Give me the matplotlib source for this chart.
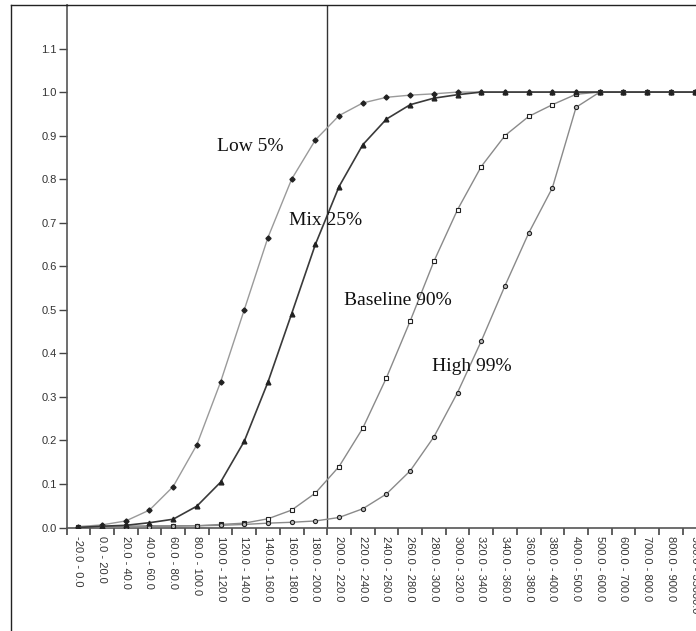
import numpy as np
import matplotlib
matplotlib.use("Agg")
import matplotlib.pyplot as plt
from matplotlib.lines import Line2D

# --- data ---
categories = ["-20.0 - 0.0", "0.0 - 20.0", "20.0 - 40.0", "40.0 - 60.0", "60.0 - 80.0",
              "80.0 - 100.0", "100.0 - 120.0", "120.0 - 140.0", "140.0 - 160.0",
              "160.0 - 180.0", "180.0 - 200.0", "200.0 - 220.0", "220.0 - 240.0",
              "240.0 - 260.0", "260.0 - 280.0", "280.0 - 300.0", "300.0 - 320.0",
              "320.0 - 340.0", "340.0 - 360.0", "360.0 - 380.0", "380.0 - 400.0",
              "400.0 - 500.0", "500.0 - 600.0", "600.0 - 700.0", "700.0 - 800.0",
              "800.0 - 900.0", "900.0 - 35000.0"]

low_5 = [0.002, 0.006, 0.015, 0.040, 0.094, 0.190, 0.334, 0.500, 0.666, 0.800,
         0.890, 0.946, 0.975, 0.988, 0.993, 0.996, 1.0, 1.0, 1.0, 1.0,
         1.0, 1.0, 1.0, 1.0, 1.0, 1.0, 1.0]
mix_25 = [0.0, 0.003, 0.005, 0.011, 0.019, 0.049, 0.104, 0.198, 0.334, 0.491,
          0.650, 0.783, 0.879, 0.938, 0.971, 0.986, 0.994, 1.0, 1.0, 1.0,
          1.0, 1.0, 1.0, 1.0, 1.0, 1.0, 1.0]
baseline_90 = [0.002, 0.002, 0.003, 0.004, 0.004, 0.004, 0.007, 0.010, 0.020, 0.040,
               0.079, 0.140, 0.228, 0.344, 0.474, 0.611, 0.730, 0.829, 0.900, 0.944,
               0.971, 0.995, 1.0, 1.0, 1.0, 1.0, 1.0]
high_99 = [0.0, 0.001, 0.001, 0.002, 0.003, 0.004, 0.005, 0.007, 0.010, 0.012,
           0.015, 0.023, 0.043, 0.077, 0.130, 0.208, 0.310, 0.428, 0.555, 0.676,
           0.780, 0.965, 1.0, 1.0, 1.0, 1.0, 1.0]

y_ticks = [0.0, 0.1, 0.2, 0.3, 0.4, 0.5, 0.6, 0.7, 0.8, 0.9, 1.0, 1.1]
cut_off = 10.5  # vertical marker at the 200.0 boundary

# annotation labels: (text, x, y)
labels = [("Low 5%", 7.24, 0.875),
          ("Mix 25%", 10.41, 0.705),
          ("Baseline 90%", 13.49, 0.522),
          ("High 99%", 16.61, 0.370)]

W, H = 696, 631
fig = plt.figure(figsize=(W / 100, H / 100), dpi=100)
fig.patch.set_facecolor("white")

# axes placed in pixel terms; right edge runs a little past the picture
left_px, right_px, top_px, bottom_px = 66.5, 706.4, 5.0, 527.5
ax = fig.add_axes([left_px / W, (H - bottom_px) / H,
                   (right_px - left_px) / W, (bottom_px - top_px) / H])

x = np.arange(len(categories))
mk = "#222222"
ax.plot(x, low_5, color="#9a9a9a", lw=1.0, marker="D", ms=2.6,
        mfc=mk, mec=mk, zorder=3)
ax.plot(x, mix_25, color="#3a3a3a", lw=1.2, marker="^", ms=3.4,
        mfc=mk, mec=mk, zorder=4)
ax.plot(x, baseline_90, color="#8a8a8a", lw=1.0, marker="s", ms=3.0,
        mfc="white", mec=mk, mew=0.8, zorder=3)
ax.plot(x, high_99, color="#8a8a8a", lw=1.0, marker="o", ms=3.0,
        mfc="#bbbbbb", mec=mk, mew=0.8, zorder=3)

ax.axvline(cut_off, color="#333333", lw=1.0, zorder=2)

for txt, tx, ty in labels:
    ax.text(tx, ty, txt, ha="center", va="center", fontsize=14,
            family="Liberation Serif", color="#111111", zorder=5)

ax.set_xlim(-0.5, len(categories) - 0.5)
ax.set_ylim(0, 1.2)

# y axis
ax.set_yticks(y_ticks)
ax.set_yticklabels([f"{v:.1f}" for v in y_ticks])
ax.tick_params(axis="y", direction="out", length=6, width=1, color="#444444",
               labelsize=8, labelcolor="#333333", pad=1)

# x axis: labels at centres, tick marks at category boundaries
ax.set_xticks(x)
ax.set_xticklabels(categories, rotation=-90, va="top", ha="center")
ax.set_xticks(np.arange(-0.5, len(categories)), minor=True)
ax.tick_params(axis="x", which="major", length=0, labelsize=8,
               labelcolor="#333333", pad=6)
ax.tick_params(axis="x", which="minor", direction="out", length=5, width=1.2,
               color="#444444")

for lab in ax.get_xticklabels() + ax.get_yticklabels():
    lab.set_family("Liberation Sans")

for side in ["left", "bottom"]:
    ax.spines[side].set_color("#555555")
    ax.spines[side].set_linewidth(1.2)
ax.spines["top"].set_color("#222222")
ax.spines["top"].set_linewidth(1.0)
ax.spines["right"].set_visible(False)

# outer frame around the chart (only left and top are inside the picture)
fig.add_artist(Line2D([11 / W, 11 / W], [0, (H - 5) / H], color="#222222", lw=1.0))
fig.add_artist(Line2D([11 / W, left_px / W], [(H - 5) / H, (H - 5) / H],
                      color="#222222", lw=1.0))

fig.savefig("out.png", dpi=100, facecolor="white")
